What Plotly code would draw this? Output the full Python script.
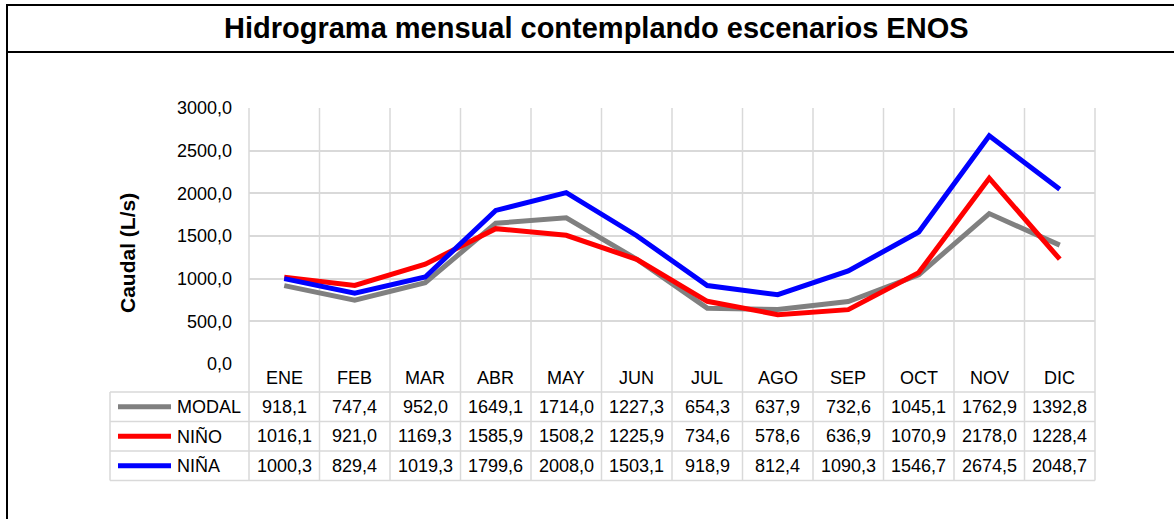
import plotly.graph_objects as go

months = ["ENE", "FEB", "MAR", "ABR", "MAY", "JUN", "JUL", "AGO", "SEP", "OCT", "NOV", "DIC"]
series_names = ["MODAL", "NIÑO", "NIÑA"]
modal = [918.1, 747.4, 952.0, 1649.1, 1714.0, 1227.3, 654.3, 637.9, 732.6, 1045.1, 1762.9, 1392.8]
nino = [1016.1, 921.0, 1169.3, 1585.9, 1508.2, 1225.9, 734.6, 578.6, 636.9, 1070.9, 2178.0, 1228.4]
nina = [1000.3, 829.4, 1019.3, 1799.6, 2008.0, 1503.1, 918.9, 812.4, 1090.3, 1546.7, 2674.5, 2048.7]
colors = ["#808080", "#ff0000", "#0000ff"]
title = "Hidrograma mensual contemplando escenarios ENOS"
y_title = "Caudal (L/s)"

W, H = 1174, 519
PL, PR, PT, PB = 249, 1095, 108, 364  # plot area in pixels
FONT = "Liberation Sans, Arial, sans-serif"
GRID = "#d9d9d9"
FS = 18


def px(x):
    return (x - PL) / (PR - PL)


def py(y):
    return (PB - y) / (PB - PT)


fig = go.Figure()
n = len(months)
xs = list(range(n))
for name, vals, c in zip(series_names, [modal, nino, nina], colors):
    fig.add_trace(go.Scatter(x=xs, y=vals, mode="lines", name=name,
                             line=dict(color=c, width=5), showlegend=False))

shapes = []
annotations = []

# vertical grid / table column lines
row_edges = [364, 392, 421.5, 451, 480.5]
for i in range(n + 1):
    shapes.append(dict(type="line", xref="paper", yref="paper",
                       x0=i / n, x1=i / n, y0=1, y1=py(row_edges[-1]),
                       line=dict(color=GRID, width=1.5), layer="below"))
# horizontal table lines
for ye in row_edges[1:]:
    shapes.append(dict(type="line", xref="paper", yref="paper",
                       x0=px(110), x1=1, y0=py(ye), y1=py(ye),
                       line=dict(color=GRID, width=1.5), layer="below"))
shapes.append(dict(type="line", xref="paper", yref="paper",
                   x0=px(110), x1=px(110), y0=py(row_edges[1]), y1=py(row_edges[-1]),
                   line=dict(color=GRID, width=1.5), layer="below"))

# header month labels
hy = (row_edges[0] + row_edges[1]) / 2
for i, m in enumerate(months):
    annotations.append(dict(xref="paper", yref="paper", x=(i + 0.5) / n, y=py(hy),
                            text=m, showarrow=False, xanchor="center", yanchor="middle",
                            font=dict(family=FONT, size=FS, color="#000000")))

# data rows
for r, (name, vals, c) in enumerate(zip(series_names, [modal, nino, nina], colors)):
    cy = (row_edges[r + 1] + row_edges[r + 2]) / 2
    shapes.append(dict(type="line", xref="paper", yref="paper",
                       x0=px(118), x1=px(171), y0=py(cy), y1=py(cy),
                       line=dict(color=c, width=5)))
    annotations.append(dict(xref="paper", yref="paper", x=px(175), y=py(cy),
                            text=name, showarrow=False, xanchor="left", yanchor="middle",
                            font=dict(family=FONT, size=FS, color="#000000")))
    for i, v in enumerate(vals):
        annotations.append(dict(xref="paper", yref="paper", x=(i + 0.5) / n, y=py(cy),
                                text=f"{v:.1f}".replace(".", ","), showarrow=False,
                                xanchor="center", yanchor="middle",
                                font=dict(family=FONT, size=FS, color="#000000")))

# outer frame lines
shapes.append(dict(type="line", xref="paper", yref="paper", x0=px(7), x1=px(7),
                   y0=py(4), y1=py(H + 5), line=dict(color="#000000", width=2)))
shapes.append(dict(type="line", xref="paper", yref="paper", x0=px(6), x1=px(W + 5),
                   y0=py(5), y1=py(5), line=dict(color="#000000", width=2)))
shapes.append(dict(type="line", xref="paper", yref="paper", x0=px(6), x1=px(W + 5),
                   y0=py(52), y1=py(52), line=dict(color="#000000", width=2)))

# title
annotations.append(dict(xref="paper", yref="paper", x=px(596), y=py(28), text=f"<b>{title}</b>",
                        showarrow=False, xanchor="center", yanchor="middle",
                        font=dict(family=FONT, size=29, color="#000000")))
# y axis title
annotations.append(dict(xref="paper", yref="paper", x=px(127), y=py(253), text=f"<b>{y_title}</b>",
                        showarrow=False, xanchor="center", yanchor="middle", textangle=-90,
                        font=dict(family=FONT, size=21, color="#000000")))

fig.update_layout(
    width=W, height=H,
    margin=dict(l=PL, r=W - PR, t=PT, b=H - PB, pad=0),
    paper_bgcolor="white", plot_bgcolor="white",
    separators=",.",
    shapes=shapes, annotations=annotations,
    xaxis=dict(range=[-0.5, n - 0.5], showgrid=False, zeroline=False, showticklabels=False,
               ticks="", showline=False, fixedrange=True),
    yaxis=dict(range=[0, 3000], dtick=500, tick0=0, tickformat=".1f", showgrid=True,
               gridcolor=GRID, gridwidth=1.5, zeroline=False, showline=False, ticks="",
               ticklabelstandoff=16,
               tickfont=dict(family=FONT, size=FS, color="#000000")),
)

fig.write_html("out.html", config={"displayModeBar": False},
               post_script="document.body.style.margin='0';document.body.style.overflow='hidden';")
